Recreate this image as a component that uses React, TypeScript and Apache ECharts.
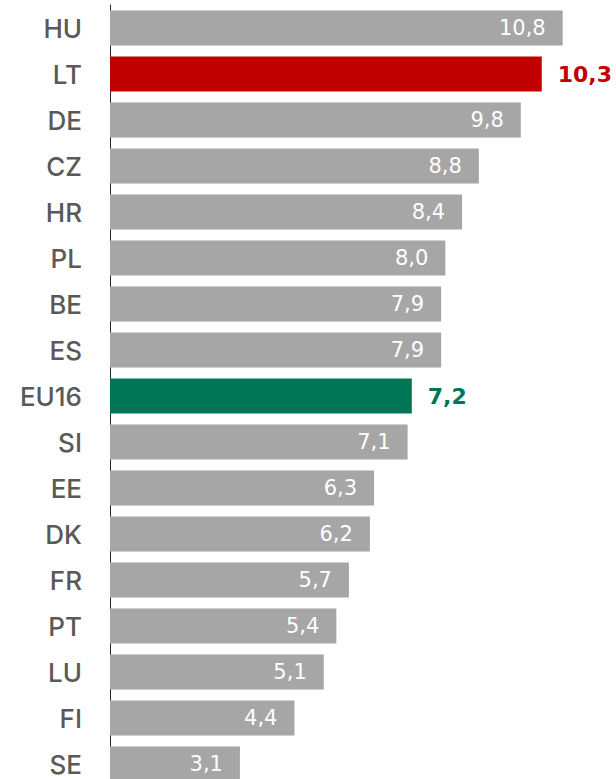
import React, { useEffect, useRef } from "react";
import * as echarts from "echarts";

const categories = ["HU", "LT", "DE", "CZ", "HR", "PL", "BE", "ES", "EU16", "SI", "EE", "DK", "FR", "PT", "LU", "FI", "SE"];
const values = [10.8, 10.3, 9.8, 8.8, 8.4, 8.0, 7.9, 7.9, 7.2, 7.1, 6.3, 6.2, 5.7, 5.4, 5.1, 4.4, 3.1];
const highlights: Record<string, string> = { LT: "#c00000", EU16: "#007656" };
const baseColor = "#a6a6a6";

export default function App() {
  const ref = useRef<HTMLDivElement>(null);
  useEffect(() => {
    if (!ref.current) return;
    const chart = echarts.init(ref.current, null, { renderer: "svg" });
    const fmt = (v: number) => v.toFixed(1).replace(".", ",");
    const data = categories.map((c, i) => {
      const hc = highlights[c];
      return {
        value: values[i],
        itemStyle: { color: hc || baseColor },
        label: hc
          ? {
              position: "right",
              distance: 16,
              color: hc,
              fontWeight: "bold",
              fontSize: 22,
            }
          : {
              position: "insideRight",
              distance: 17,
              color: "#ffffff",
              fontWeight: "normal",
              fontSize: 21,
            },
      };
    });
    chart.setOption({
      animation: false,
      grid: { left: 110, top: 5, width: 503, height: 782, containLabel: false },
      xAxis: { type: "value", min: 0, max: 12, show: false },
      yAxis: {
        type: "category",
        inverse: true,
        data: categories,
        axisLine: { show: true, lineStyle: { color: "#262626", width: 1 } },
        axisTick: { show: false },
        axisLabel: {
          color: "#595959",
          fontSize: 26,
          fontFamily: "Inter",
          fontWeight: 500,
          margin: 28,
        },
      },
      series: [
        {
          type: "bar",
          data,
          barWidth: 35,
          label: {
            show: true,
            fontFamily: "DejaVu Sans",
            formatter: (p: any) => fmt(p.value),
          },
        },
      ],
    });
    return () => chart.dispose();
  }, []);
  return <div ref={ref} style={{ position: "absolute", left: 0, top: 0, width: 616, height: 790 }} />;
}
